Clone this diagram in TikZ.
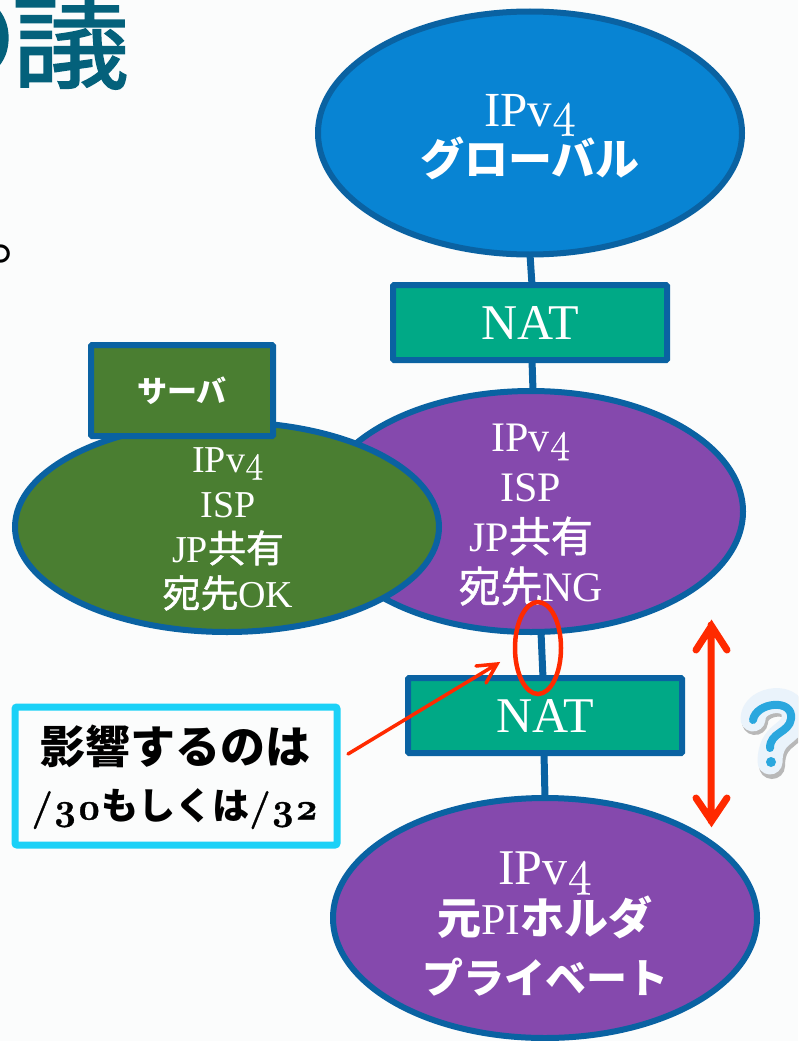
\documentclass[tikz,border=0pt]{standalone}
\usepackage{fontspec}
\usetikzlibrary{shapes.geometric}
\setmainfont{Liberation Serif}
\newfontfamily\cjk{Noto Sans CJK JP}
\newfontfamily\cjkm{Noto Sans CJK JP}[FakeBold=1.2]
\newfontfamily\lmo{Latin Modern Roman}[Numbers=OldStyle,FakeBold=0.8]
\newcommand\fs[2]{\fontsize{#1}{#2}\selectfont}
\newcommand\osn[1]{{\lmo #1}}
\definecolor{edgeblue}{HTML}{0A62A2}
\definecolor{topblue}{HTML}{0884D3}
\definecolor{purplefill}{HTML}{8549AD}
\definecolor{greenfill}{HTML}{4A7E31}
\definecolor{natgreen}{HTML}{00A986}
\definecolor{alertred}{HTML}{FF2A00}
\definecolor{boxcyan}{HTML}{1BD1F7}
\definecolor{titleteal}{HTML}{04617B}
\definecolor{bgwhite}{HTML}{FBFCFC}
\definecolor{qbody}{HTML}{EAF3FB}
\definecolor{qblue}{HTML}{2AA7DE}
\tikzset{
  x=1pt,y=-1pt,
  oval/.style={ellipse,draw=edgeblue,line width=6pt,inner sep=0pt,outer sep=0pt,minimum width=424pt},
  ovaltext/.style={text=white,align=center,inner sep=0pt},
  natbox/.style={rectangle,draw=edgeblue,line width=6pt,rounded corners=1pt,fill=natgreen,text=white,inner sep=0pt,outer sep=0pt,minimum width=274pt,minimum height=75pt,font=\fs{50}{50}},
  link/.style={draw=edgeblue,line width=7pt},
  redline/.style={draw=alertred,line cap=round,line join=miter},
}
\begin{document}
\begin{tikzpicture}
\useasboundingbox (0,0) rectangle (798,1041);
\clip (0,0) rectangle (798,1041);
\fill[bgwhite] (0,0) rectangle (798,1041);
% title fragments
\node[anchor=base east,text=titleteal,inner sep=0pt,font=\cjkm\fs{118}{118}] (title) at (130,79) {の\kern-7pt 議};
\node[anchor=center,inner sep=0pt,font=\cjk\fs{60}{60}] (maru) at (20,254) {。};
% nodes
\node[oval,fill=topblue,minimum height=243pt] (top) at (530,133) {};
\node[ovaltext] (toptext) at (530,137) {\fs{49}{54}IPv\osn{4}\\{\cjk\bfseries\fs{44}{54}グローバル}};
\node[natbox] (nat1) at (530,322.5) {\raisebox{-5pt}{NAT}};
\node[oval,fill=purplefill,minimum height=241pt] (isp) at (531,511.5) {};
\node[ovaltext,font=\fs{42}{50}] (isptext) at (531,515) {IPv\osn{4}\\ISP\\JP{\cjkm 共有}\\{\cjkm 宛先}NG};
\node[oval,fill=greenfill,minimum height=210pt] (ok) at (227,527) {};
\node[ovaltext,font=\fs{38}{45}] (oktext) at (228,529) {IPv\osn{4}\\ISP\\JP{\cjkm 共有}\\{\cjkm 宛先}OK};
\node[rectangle,draw=edgeblue,line width=6pt,rounded corners=1pt,fill=greenfill,text=white,inner sep=0pt,outer sep=0pt,minimum width=182pt,minimum height=91pt,font=\cjk\bfseries\fs{30}{30}] (srv) at (182,390.5) {サーバ};
\node[natbox] (nat2) at (545,715.5) {\raisebox{-5pt}{NAT}};
\node[oval,fill=purplefill,minimum height=240pt] (pi) at (545,918) {};
\node[ovaltext] (pitext) at (545,924) {\fs{50}{54}IPv\osn{4}\\{\fs{44}{52}{\cjk\bfseries 元}PI{\cjk\bfseries ホルダ}}\\[18pt]{\cjk\bfseries\fs{41}{52}プライベート}};
% links
\draw[link] (top.south) -- ([xshift=2pt]nat1.north);
\draw[link] ([xshift=2pt]nat1.south) -- ([xshift=2pt]isp.north);
\draw[link] ([xshift=10pt]isp.south) -- ([xshift=-2pt]nat2.north);
\draw[link] ([xshift=-1pt]nat2.south) -- (pi.north);
% callout
\node[rectangle,draw=boxcyan,line width=7pt,rounded corners=2pt,fill=bgwhite,inner sep=0pt,outer sep=0pt,minimum width=322pt,minimum height=138pt] (note) at (176,776) {};
\node[align=center,inner sep=0pt,font=\cjk\bfseries\fs{45}{56}] (notetext) at (175,777)
  {影響するのは\\{\fs{37}{56}{\lmo\fs{38}{56}/30}もしくは{\lmo\fs{38}{56}/32}}};
% red marks
\node[ellipse,draw=alertred,line width=4.5pt,inner sep=0pt,minimum width=46pt,minimum height=92pt] (ring) at (538,648) {};
\coordinate (ptr) at (497,664);
\coordinate (ptrfrom) at (348,754);
\draw[redline,line width=3.5pt] (ptrfrom) -- (ptr) (476,666) -- (ptr) -- (486,683);
\coordinate (da) at (711,625);
\coordinate (db) at (711,821);
\draw[redline,line width=7pt] (da) -- (db) (696,650) -- (711.5,626) -- (727,650) (696,798) -- (711.5,821) -- (727,798);
% question mark
\begin{scope}[line cap=round,line join=round]
\draw[line width=26pt,draw=black!28] (755,722) .. controls (755,700) and (800,695) .. (796,722) .. controls (794,738) and (772,735) .. (772,766);
\draw[line width=25pt,draw=qbody] (753,719) .. controls (753,697) and (798,692) .. (794,719) .. controls (792,735) and (770,732) .. (770,762);
\draw[line width=8pt,draw=qblue] (753,720) .. controls (756,702) and (794,698) .. (791,719) .. controls (789,733) and (770,732) .. (770,748);
\fill[qblue] (771,762) circle (5);
\end{scope}
\end{tikzpicture}
\end{document}
